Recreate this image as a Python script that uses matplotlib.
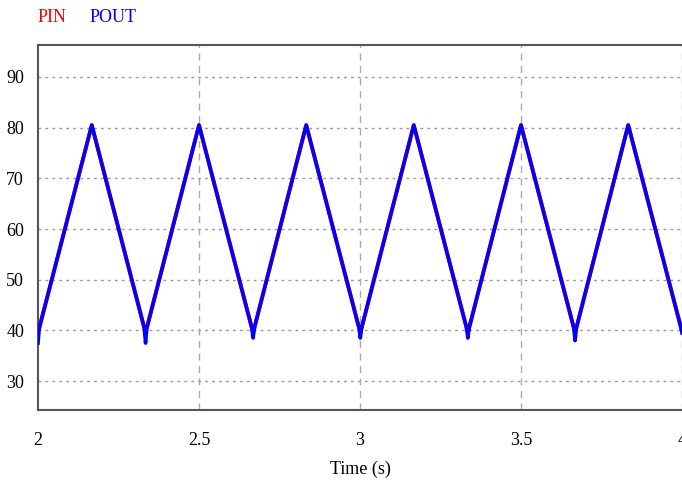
import numpy as np
import matplotlib.pyplot as plt

plt.rcParams['font.family'] = ['Liberation Serif', 'DejaVu Serif']

# triangle wave vertices (time in s)
t = [2.0, 2.004, 2.167, 2.33, 2.334, 2.338, 2.5, 2.664, 2.668, 2.672, 2.833,
     2.997, 3.001, 3.005, 3.167, 3.331, 3.335, 3.339, 3.5, 3.664, 3.668, 3.672,
     3.833, 3.997, 4.0]
pin = [40.0, 40.5, 80.5, 40.5, 39.5, 40.5, 80.5, 40.5, 39.5, 40.5, 80.5,
       40.5, 39.5, 40.5, 80.5, 40.5, 39.5, 40.5, 80.5, 40.5, 39.5, 40.5,
       80.5, 40.5, 40.0]
pout = [37.5, 40.5, 80.5, 40.5, 37.5, 40.5, 80.5, 40.5, 38.5, 40.5, 80.5,
        40.5, 38.5, 40.5, 80.5, 40.5, 38.5, 40.5, 80.5, 40.5, 38.0, 40.5,
        80.5, 40.5, 39.5]

yticks = [30, 40, 50, 60, 70, 80, 90]
xticks = [2, 2.5, 3, 3.5, 4]
xticklabels = ['2', '2.5', '3', '3.5', '4']

fig = plt.figure(figsize=(6.82, 4.8), dpi=100)
ax = fig.add_axes([38 / 682, 1 - 410 / 480, 1 - 38 / 682, (410 - 45) / 480])

ax.plot(t, pin, color='red', lw=2.8, zorder=3)
ax.plot(t, pout, color='blue', lw=2.6, zorder=4)

ax.set_xlim(2, 4)
ax.set_ylim(24.3, 96.3)
ax.set_yticks(yticks)
ax.set_xticks(xticks)
ax.set_xticklabels(xticklabels)
ax.tick_params(length=0, labelsize=13, pad=10)
ax.tick_params(axis='x', pad=16)

for y in yticks:
    ax.axhline(y, color='#999999', lw=1.0, ls=(0, (2, 3)), zorder=1)
for x in xticks[1:]:
    ax.axvline(x, color='#aaaaaa', lw=1.0, ls=(0, (5, 4)), zorder=1)

for s in ['left', 'top', 'bottom']:
    ax.spines[s].set_color('#555555')
    ax.spines[s].set_linewidth(1.5)
ax.spines['right'].set_visible(False)

ax.set_xlabel('Time (s)', fontsize=13, labelpad=8)

fig.text(38 / 682, 1 - 17 / 480, 'PIN', color='red', fontsize=13, va='center')
fig.text(90 / 682, 1 - 17 / 480, 'POUT', color='blue', fontsize=13, va='center')

fig.savefig('out.png', dpi=100)
